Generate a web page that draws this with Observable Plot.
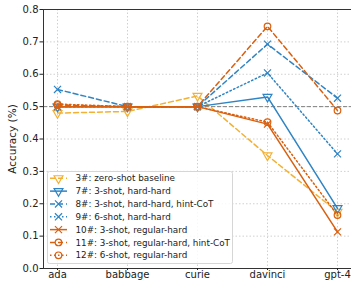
<!DOCTYPE html>
<html>
<head>
<meta charset="utf-8">
<script src="https://cdn.jsdelivr.net/npm/d3@7"></script>
<script src="https://cdn.jsdelivr.net/npm/@observablehq/plot@0.6"></script>
<style>
  html, body { margin: 0; padding: 0; background: #fff; }
  #chart { width: 351px; height: 281px; overflow: hidden; }
  svg { font-family: "DejaVu Sans", sans-serif; }
</style>
</head>
<body>
<div id="chart"></div>
<script>
const models = ["ada", "babbage", "curie", "davinci", "gpt-4"];
const seriesNames = [
  "3#: zero-shot baseline",
  "7#: 3-shot, hard-hard",
  "8#: 3-shot, hard-hard, hint-CoT",
  "9#: 6-shot, hard-hard",
  "10#: 3-shot, regular-hard",
  "11#: 3-shot, regular-hard, hint-CoT",
  "12#: 6-shot, regular-hard"
];
const s3  = [0.480, 0.485, 0.533, 0.349, 0.175];
const s7  = [0.500, 0.500, 0.500, 0.530, 0.186];
const s8  = [0.553, 0.500, 0.500, 0.693, 0.526];
const s9  = [0.500, 0.500, 0.500, 0.604, 0.354];
const s10 = [0.500, 0.500, 0.500, 0.446, 0.113];
const s11 = [0.505, 0.500, 0.500, 0.748, 0.488];
const s12 = [0.508, 0.500, 0.500, 0.452, 0.165];
const seriesValues = [s3, s7, s8, s9, s10, s11, s12];
const baseline = 0.5;
const yTicks = [0, 0.1, 0.2, 0.3, 0.4, 0.5, 0.6, 0.7, 0.8];

const YEL = "#f2b134", BLUE = "#2f84c4", ORG = "#d9600f";
const styles = [
  {color: YEL,  dash: "5,3",     symbol: "triangle", rotate: 180},
  {color: BLUE, dash: null,      symbol: "triangle", rotate: 180},
  {color: BLUE, dash: "5,3",     symbol: "times",    rotate: 0},
  {color: BLUE, dash: "1.5,2.5", symbol: "times",    rotate: 0},
  {color: ORG,  dash: null,      symbol: "times",    rotate: 0},
  {color: ORG,  dash: "5,3",     symbol: "circle",   rotate: 0},
  {color: ORG,  dash: "1.5,2.5", symbol: "circle",   rotate: 0}
];

const tables = seriesValues.map((vals, i) =>
  models.map((m, j) => ({model: m, value: vals[j], series: seriesNames[i]})));

const marks = [
  Plot.gridX(models, {stroke: "#d0d0d0", strokeOpacity: 1, strokeDasharray: "1.5,2"}),
  Plot.gridY(yTicks, {stroke: "#d0d0d0", strokeOpacity: 1, strokeDasharray: "1.5,2"}),
  Plot.ruleY([baseline], {stroke: "#808080", strokeDasharray: "4,2", strokeWidth: 1})
];
tables.forEach((t, i) => {
  const st = styles[i];
  marks.push(Plot.line(t, {x: "model", y: "value", stroke: st.color, strokeWidth: 1.5,
    strokeDasharray: st.dash || undefined}));
  marks.push(Plot.dot(t, {x: "model", y: "value", stroke: st.color, fill: "none",
    strokeWidth: 1.2, r: 3.3, symbol: st.symbol, rotate: st.rotate}));
});
marks.push(Plot.frame({stroke: "#333", strokeWidth: 1}));
marks.push(Plot.axisY(yTicks, {tickFormat: d3.format(".1f"), tickSize: 3.5, tickPadding: 1.5,
  fontSize: 10, label: null}));
marks.push(Plot.text(["Accuracy (%)"], {frameAnchor: "left", dx: -31, rotate: -90,
  fontSize: 10.5, fill: "#222", textAnchor: "middle"}));
marks.push(Plot.axisX(models, {tickSize: 2, tickPadding: 0.5, fontSize: 10, label: null}));

const chart = Plot.plot({
  width: 351, height: 281,
  marginLeft: 43, marginRight: 0, marginTop: 9, marginBottom: 13,
  style: {fontFamily: "DejaVu Sans, sans-serif", fontSize: "10px", color: "#222", background: "#fff"},
  x: {type: "point", domain: models, padding: 0.2},
  y: {domain: [0, 0.8]},
  marks
});
document.getElementById("chart").appendChild(chart);

// legend
const svg = d3.select(chart);
const lg = svg.append("g").attr("font-family", "DejaVu Sans, sans-serif").attr("font-size", 8.8)
  .attr("text-anchor", "start");
lg.append("rect").attr("x", 47.5).attr("y", 171.5).attr("width", 185).attr("height", 92)
  .attr("rx", 2).attr("fill", "#fff").attr("fill-opacity", 0.85).attr("stroke", "#d6d6d6");
seriesNames.forEach((name, i) => {
  const st = styles[i];
  const y = 178.3 + i * 12.83;
  lg.append("line").attr("x1", 50).attr("x2", 67).attr("y1", y).attr("y2", y)
    .attr("stroke", st.color).attr("stroke-width", 1.5)
    .attr("stroke-dasharray", st.dash || null);
  const symMap = {triangle: d3.symbolTriangle, times: d3.symbolTimes, circle: d3.symbolCircle};
  const r = 3.3;
  lg.append("path").attr("d", d3.symbol(symMap[st.symbol], Math.PI * r * r)())
    .attr("transform", `translate(58.5,${y}) rotate(${st.rotate})`)
    .attr("fill", "none").attr("stroke", st.color).attr("stroke-width", 1.2);
  lg.append("text").attr("x", 75.5).attr("y", y).attr("dy", "0.35em")
    .attr("text-anchor", "start").attr("fill", "#222").text(name);
});
</script>
</body>
</html>
